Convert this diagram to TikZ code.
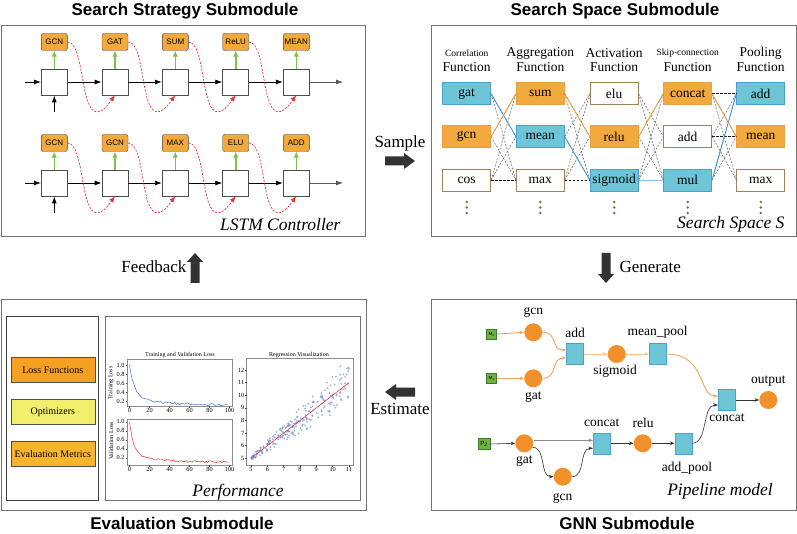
\documentclass[tikz,border=0pt]{standalone}
\usepackage{fontspec}
\setmainfont{Liberation Serif}
\setsansfont{Liberation Sans}
\usetikzlibrary{arrows.meta,calc}
\definecolor{lstmor}{HTML}{F2A93B}
\definecolor{lgreen}{HTML}{7DC04B}
\definecolor{lred}{HTML}{E8323C}
\definecolor{steal}{HTML}{6EC5D6}
\definecolor{sblueb}{HTML}{4A9FD0}
\definecolor{sorange}{HTML}{F2AA3E}
\definecolor{sorangeb}{HTML}{E8A040}
\definecolor{sbrown}{HTML}{A0825A}
\definecolor{hblue}{HTML}{3A9AD9}
\definecolor{horange}{HTML}{F0A030}
\definecolor{pcor}{HTML}{F2912C}
\definecolor{porl}{HTML}{F5A55A}
\definecolor{pgreen}{HTML}{6DB33F}
\definecolor{pgreenb}{HTML}{3E7A2A}
\definecolor{darkarrow}{HTML}{333333}
\definecolor{lossor}{HTML}{F5A020}
\definecolor{optyel}{HTML}{F2EE6E}
\definecolor{evalor}{HTML}{F7B52E}
\definecolor{plblue}{HTML}{4472C4}
\definecolor{plred}{HTML}{E8383D}
\definecolor{scblue}{HTML}{5F85C8}
\definecolor{dotbrown}{HTML}{8B6A3E}
\tikzset{
  panel/.style={draw=black!55, line width=0.9pt},
  ptitle/.style={font=\sffamily\bfseries\fontsize{17}{20}\selectfont},
  itlab/.style={font=\itshape\fontsize{17.5}{20}\selectfont},
  midlab/.style={font=\fontsize{17}{20}\selectfont},
  lbox/.style={draw=black!70, fill=white, minimum width=26, minimum height=26, inner sep=0, line width=0.8pt},
  llab/.style={draw=black!75, fill=lstmor, rounded corners=2pt, minimum width=26, minimum height=17, inner sep=0, font=\sffamily\fontsize{8}{9}\selectfont},
  harr/.style={-{Latex[length=7pt,width=5pt]}, line width=0.8pt},
  garr/.style={-{Latex[length=6pt,width=5.5pt]}, draw=lgreen, line width=1.6pt},
  rarr/.style={-{Latex[length=6pt,width=5pt]}, draw=lred, dash pattern=on 2pt off 1.5pt, line width=0.7pt},
  sbox/.style={minimum width=48, minimum height=22, inner sep=0, font=\fontsize{13.5}{15}\selectfont, line width=0.8pt},
  sblue/.style={sbox, fill=steal, draw=sblueb},
  sor/.style={sbox, fill=sorange, draw=sorangeb},
  swh/.style={sbox, fill=white, draw=sbrown},
  hsmall/.style={font=\fontsize{9.5}{11}\selectfont},
  hbig/.style={font=\fontsize{13.5}{15}\selectfont},
  sdash/.style={draw=black!60, dash pattern=on 2pt off 1.5pt, line width=0.55pt},
  sdashk/.style={draw=black!90, dash pattern=on 2.5pt off 1.5pt, line width=0.7pt},
  hlb/.style={draw=hblue, line width=0.8pt},
  hlo/.style={draw=horange, line width=0.8pt},
  pcirc/.style={circle, fill=pcor, minimum size=18, inner sep=0},
  psq/.style={fill=steal, draw=sblueb, minimum width=17, minimum height=21, inner sep=0, line width=0.6pt},
  pin/.style={fill=pgreen, draw=pgreenb, minimum width=10, minimum height=10, inner sep=0, line width=0.5pt, font=\sffamily\fontsize{4.5}{5}\selectfont},
  plab/.style={font=\fontsize{13.5}{15}\selectfont, inner sep=0},
  pol/.style={draw=porl, line width=0.9pt, -{Stealth[length=4.5pt,width=3.5pt]}},
  pbl/.style={draw=black!80, line width=0.6pt, -{Stealth[length=4.5pt,width=3.5pt]}},
  ebox/.style={draw=black!70, minimum width=84, minimum height=25, inner sep=0, font=\fontsize{10}{12}\selectfont, line width=0.6pt},
  axframe/.style={draw=black!45, line width=0.8pt},
  tick/.style={font=\fontsize{6.3}{7}\selectfont, inner sep=0.5pt},
  ptit/.style={font=\fontsize{6}{7}\selectfont, inner sep=0},
}
\begin{document}
\begin{tikzpicture}[x=1pt,y=-1pt]
\useasboundingbox (0,0) rectangle (797,534);
\fill[white] (0,0) rectangle (797,534);
\pgfmathsetseed{7}

% ---------------- panels and titles
\draw[panel] (1,25) rectangle (365,236);
\draw[panel] (431,25) rectangle (796,236);
\draw[panel] (1,299) rectangle (366,510);
\draw[panel] (431,299) rectangle (796,510);
\node[ptitle] (t1) at (185,11) {Search Strategy Submodule};
\node[ptitle] (t2) at (615,11) {Search Space Submodule};
\node[ptitle] (t3) at (182,523) {Evaluation Submodule};
\node[ptitle] (t4) at (627,523) {GNN Submodule};

% ---------------- middle arrows
\fill[darkarrow] (385,156.5) -- (404,156.5) -- (404,153) -- (415,161) -- (404,169) -- (404,165.5) -- (385,165.5) -- cycle;
\node[midlab] (sample) at (400,143) {Sample};
\fill[darkarrow] (415,387.5) -- (396,387.5) -- (396,384) -- (385,392) -- (396,400) -- (396,396.5) -- (415,396.5) -- cycle;
\node[midlab] (estimate) at (400,409) {Estimate};
\fill[darkarrow] (190.5,283) -- (190.5,262) -- (187,262) -- (195,253) -- (203,262) -- (199.5,262) -- (199.5,283) -- cycle;
\node[midlab, anchor=east] (feedback) at (190,267) {Feedback};
\fill[darkarrow] (601.5,253) -- (601.5,274) -- (598,274) -- (606,283) -- (614,274) -- (610.5,274) -- (610.5,253) -- cycle;
\node[midlab, anchor=west] (generate) at (616,267) {Generate};

% ---------------- LSTM controller
\foreach \i/\x/\lab in {1/54.3/GCN,2/115/GAT,3/175.3/SUM,4/235.7/ReLU,5/296.3/MEAN}{
  \node[lbox] (a\i) at (\x,82) {};
  \node[llab] (la\i) at (\x,42) {\lab};
  \draw[garr] (a\i.north) -- (la\i.south);
}
\foreach \i/\x/\lab in {1/54.3/GCN,2/115/GCN,3/175.3/MAX,4/235.7/ELU,5/296.3/ADD}{
  \node[lbox] (b\i) at (\x,183) {};
  \node[llab] (lb\i) at (\x,143) {\lab};
  \draw[garr] (b\i.north) -- (lb\i.south);
}
\coordinate (ain) at (25,82);
\coordinate (aout) at (343,82);
\coordinate (aup) at (54.3,112);
\coordinate (bin) at (25,183);
\coordinate (bout) at (343,183);
\coordinate (bup) at (54.3,213);
\draw[harr] (ain) -- (a1.west);
\draw[harr] (bin) -- (b1.west);
\draw[harr] (aup) -- (a1.south);
\draw[harr] (bup) -- (b1.south);
\draw[harr, draw=black!65] (a5.east) -- (aout);
\draw[harr, draw=black!65] (b5.east) -- (bout);
\foreach \i/\j in {1/2,2/3,3/4,4/5}{
  \draw[harr] (a\i.east) -- (a\j.west);
  \draw[harr] (b\i.east) -- (b\j.west);
  \draw[rarr] (la\i.east) .. controls +(17,0) and +(-17,0) .. ($(a\j.south)+(-18,16.5)$) .. controls +(7,0) and +(-4,5) .. (a\j.south);
  \draw[rarr] (lb\i.east) .. controls +(17,0) and +(-17,0) .. ($(b\j.south)+(-18,16.5)$) .. controls +(7,0) and +(-4,5) .. (b\j.south);
}
\node[itlab, anchor=east] (lstm) at (344,225) {LSTM Controller};

% ---------------- Search space
\node[hsmall] (h1a) at (466.7,53) {Correlation};
\node[hbig] (h1b) at (466.7,67) {Function};
\node[hbig] (h2a) at (540.3,53) {Aggregation};
\node[hbig] (h2b) at (540.3,67) {Function};
\node[hbig] (h3a) at (614.2,53) {Activation};
\node[hbig] (h3b) at (614.2,67) {Function};
\node[hsmall] (h4a) at (687.7,53) {Skip-connection};
\node[hbig] (h4b) at (687.7,67) {Function};
\node[hbig] (h5a) at (760.7,53) {Pooling};
\node[hbig] (h5b) at (760.7,67) {Function};

\node[sblue] (s11) at (466.7,93.7) {gat};
\node[sor]   (s12) at (466.7,136.7) {gcn};
\node[swh]   (s13) at (466.7,180) {cos};
\node[sor]   (s21) at (540.3,93.7) {sum};
\node[sblue] (s22) at (540.3,136.7) {mean};
\node[swh]   (s23) at (540.3,180) {max};
\node[swh]   (s31) at (614.2,93.7) {elu};
\node[sor]   (s32) at (614.2,136.7) {relu};
\node[sblue] (s33) at (614.2,180) {sigmoid};
\node[sor]   (s41) at (687.7,93.7) {concat};
\node[swh]   (s42) at (687.7,136.7) {add};
\node[sblue] (s43) at (687.7,180) {mul};
\node[sblue] (s51) at (760.7,93.7) {add};
\node[sor]   (s52) at (760.7,136.7) {mean};
\node[swh]   (s53) at (760.7,180) {max};

\foreach \a/\b in {1/2,2/3,3/4,4/5}{
  \foreach \i in {1,2,3}{
    \foreach \j in {1,2,3}{
      \ifnum\i=\j\relax\else
        \draw[sdash] (s\a\i.east) -- (s\b\j.west);
      \fi
    }
  }
}
\draw[sdashk] (s13.east) -- (s23.west);
\draw[sdashk] (s23.east) -- (s33.west);
\draw[sdashk] (s41.east) -- (s51.west);
\draw[sdashk] (s42.east) -- (s52.west);
\draw[hlb] (s11.east) -- (s22.west);
\draw[hlb] (s22.east) -- (s33.west);
\draw[hlb, draw=hblue!60] (s33.east) -- (s43.west);
\draw[hlb] (s43.east) -- (s51.west);
\draw[hlo] (s12.east) -- (s21.west);
\draw[hlo] (s21.east) -- (s32.west);
\draw[hlo] (s32.east) -- (s41.west);
\draw[hlo] (s41.east) -- (s52.west);
\foreach \x in {466.7,540.3,614.2,687.7,760.7}{
  \foreach \y in {202,207.5,213}{
    \fill[dotbrown] (\x,\y) circle (1.4);
  }
}
\node[itlab, anchor=east] (ssS) at (788,224) {Search Space S};

% ---------------- GNN pipeline
\node[pin] (m2) at (491.7,334) {M\textsubscript{2}};
\node[pin] (m1) at (491.7,378.3) {M\textsubscript{1}};
\node[pin, minimum width=12, minimum height=11, font=\sffamily\fontsize{6}{6}\selectfont] (p2) at (484,444) {P\textsubscript{2}};
\node[pcirc] (gcn1) at (533.3,332.3) {};
\node[pcirc] (gat1) at (533.3,378.3) {};
\node[psq] (add1) at (575,354) {};
\node[pcirc] (sig) at (616.7,354) {};
\node[psq] (mp) at (657.7,354) {};
\node[psq] (cc2) at (726.7,400) {};
\node[pcirc] (outp) at (768.3,400) {};
\node[pcirc] (gat2) at (524.3,443.3) {};
\node[psq] (cc1) at (601.7,443.3) {};
\node[pcirc] (relu) at (642.7,443.3) {};
\node[psq] (ap) at (683.3,443.3) {};
\node[pcirc] (gcn2) at (562.7,476.7) {};

\node[plab] (lgcn1) at (533.3,312) {gcn};
\node[plab] (lgat1) at (533.3,397) {gat};
\node[plab] (ladd1) at (575,333) {add};
\node[plab] (lsig) at (615,371) {sigmoid};
\node[plab] (lmp) at (657.7,332) {mean\_pool};
\node[plab] (lcc2) at (727,417.5) {concat};
\node[plab] (lout) at (768.3,381) {output};
\node[plab] (lgat2) at (524.3,461.5) {gat};
\node[plab] (lcc1) at (601.7,423) {concat};
\node[plab] (lrelu) at (643,423) {relu};
\node[plab] (lap) at (687,468.5) {add\_pool};
\node[plab] (lgcn2) at (562.7,498) {gcn};

\draw[pol] (m2.east) -- (gcn1.west);
\draw[pol] (m1.east) -- (gat1.west);
\draw[pol] (gcn1.east) .. controls +(16,0) and +(-16,0) .. ($(add1.west)+(0,-4)$);
\draw[pol] (gat1.east) .. controls +(16,0) and +(-16,0) .. ($(add1.west)+(0,4)$);
\draw[pol, draw=porl!70] (add1.east) -- (sig.west);
\draw[pol, draw=porl!70] (sig.east) -- (mp.west);
\draw[pol] (mp.east) .. controls +(40,0) and +(-20,0) .. ($(cc2.west)+(0,-4)$);
\draw[pbl] (cc2.east) -- (outp.west);
\draw[pbl] (p2.east) -- (gat2.west);
\draw[pbl, draw=black!45, line width=1pt] ($(gat2.east)+(0,-3)$) -- ($(cc1.west)+(0,-3)$);
\draw[pbl] ($(gat2.east)+(-1,4)$) .. controls +(14,0) and +(-14,0) .. (gcn2.west);
\draw[pbl] (gcn2.east) .. controls +(14,0) and +(-14,0) .. ($(cc1.west)+(0,5)$);
\draw[pbl] (cc1.east) -- (relu.west);
\draw[pbl] (relu.east) -- (ap.west);
\draw[pbl] (ap.east) .. controls +(16,0) and +(-16,0) .. ($(cc2.west)+(0,5)$);
\node[itlab] (pipe) at (720,491.7) {Pipeline model};

% ---------------- Evaluation
\draw[draw=black!75, line width=0.8pt] (6.7,316.7) rectangle (98.7,500);
\draw[draw=black!55, line width=0.9pt] (105.3,316.7) rectangle (360,500);
\node[ebox, fill=lossor] (loss) at (52.8,369.8) {Loss Functions};
\node[ebox, fill=optyel] (opt) at (52.8,412) {Optimizers};
\node[ebox, fill=evalor] (evm) at (52.8,454) {Evaluation Metrics};

% training loss
\node[ptit] (tt1) at (180,355.5) {Training and Validation Loss};
\draw[axframe] (127,359.5) rectangle (232.7,406);
\foreach \v/\y in {1.0/365,0.8/374,0.6/383,0.4/392,0.2/401}{
  \draw[black!70, line width=0.4pt] (127,\y) -- (125.5,\y);
  \node[tick, anchor=east] at (125.3,\y) {\v};
}
\foreach \k in {0,20,40,60,80,100}{
  \draw[black!70, line width=0.4pt] ({129.5+\k},406) -- ({129.5+\k},407.5);
  \node[tick, anchor=north] at ({129.5+\k},407.3) {\k};
}
\draw[plblue, line width=0.5pt] plot[domain=0:98, samples=70] ({129.5+\x},{365+(1-(0.11+0.72*exp(-\x/5)+0.17*exp(-\x/30)+0.022*rand))*45});
\node[ptit, rotate=90] (ytl) at (111,383) {Training Loss};

% validation loss
\draw[axframe] (127,419.3) rectangle (232.7,465);
\foreach \v/\y in {1.0/421.7,0.8/430.7,0.6/439.7,0.4/448.7,0.2/457.7}{
  \draw[black!70, line width=0.4pt] (127,\y) -- (125.5,\y);
  \node[tick, anchor=east] at (125.3,\y) {\v};
}
\foreach \k in {0,20,40,60,80,100}{
  \draw[black!70, line width=0.4pt] ({129.5+\k},465) -- ({129.5+\k},466.5);
  \node[tick, anchor=north] at ({129.5+\k},466.3) {\k};
}
\draw[plred, line width=0.5pt] plot[domain=0:98, samples=70] ({129.5+\x},{421.7+(1-(0.1+0.72*exp(-\x/4)+0.18*exp(-\x/25)+0.022*rand))*45});
\node[ptit, rotate=90] (yvl) at (111,441) {Validation Loss};

% regression
\node[ptit] (tt2) at (299,355.5) {Regression Visualization};
\begin{scope}
  \clip (246.7,358.3) rectangle (353.3,465);
  \foreach \n in {1,...,230}{
    \pgfmathsetmacro\rx{5+6*rnd}
    \pgfmathsetmacro\ry{\rx+(0.14+0.16*(\rx-5))*(rand+rand)}
    \fill[scblue, opacity=0.65] ({251+(\rx-5)*16.33},{458.3-(\ry-5)*12.61}) circle (1.0);
  }
  \draw[plred, line width=0.6pt] (251,458.3) -- ({251+6*16.33},{458.3-6*12.61});
\end{scope}
\draw[axframe] (246.7,358.3) rectangle (353.3,465);
\foreach \v in {5,...,12}{
  \draw[black!70, line width=0.4pt] (246.7,{458.3-(\v-5)*12.61}) -- (245.2,{458.3-(\v-5)*12.61});
  \node[tick, anchor=east] at (245,{458.3-(\v-5)*12.61}) {\v};
}
\foreach \v in {5,...,11}{
  \draw[black!70, line width=0.4pt] ({251+(\v-5)*16.33},465) -- ({251+(\v-5)*16.33},466.5);
  \node[tick, anchor=north] at ({251+(\v-5)*16.33},466.3) {\v};
}
\node[itlab] (perf) at (238,491.7) {Performance};
\end{tikzpicture}
\end{document}
